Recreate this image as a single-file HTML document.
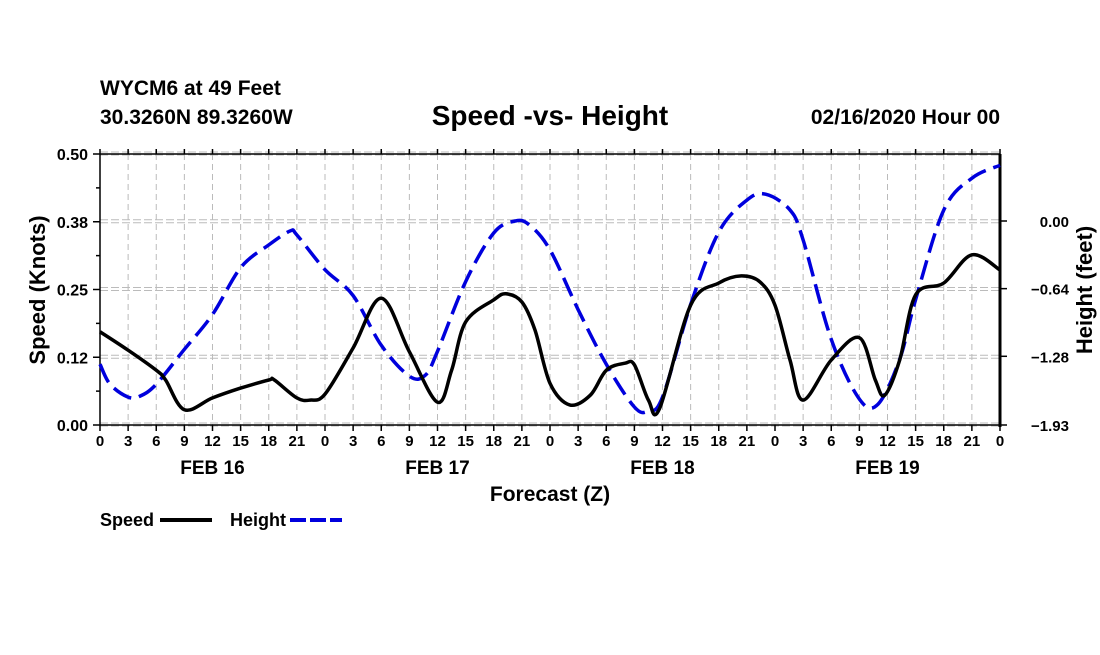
<!DOCTYPE html>
<html><head><meta charset="utf-8"><style>
body{margin:0;background:#fff;}
svg text{font-family:"Liberation Sans",Arial,sans-serif;font-weight:bold;fill:#000;}
</style></head><body>
<svg id="chart" width="1100" height="650" xmlns="http://www.w3.org/2000/svg">
<text x="100" y="95" font-size="21">WYCM6 at 49 Feet</text>
<text x="100" y="124" font-size="21">30.3260N 89.3260W</text>
<text x="550" y="125" font-size="28" text-anchor="middle">Speed -vs- Height</text>
<text x="1000" y="124" font-size="21" text-anchor="end">02/16/2020 Hour 00</text>
<g id="grid"></g>
<g id="axes"></g>
<g id="series"></g>
<text transform="translate(45,290) rotate(-90)" font-size="22" text-anchor="middle">Speed (Knots)</text>
<text transform="translate(1092,290) rotate(-90)" font-size="22" text-anchor="middle">Height (feet)</text>
<text x="550" y="501" font-size="21" text-anchor="middle">Forecast (Z)</text>
<g>
<text x="100" y="526" font-size="18">Speed</text>
<line x1="160" y1="520" x2="212" y2="520" stroke="#000" stroke-width="4"/>
<text x="230" y="526" font-size="18">Height</text>
<line x1="290" y1="520" x2="342" y2="520" stroke="#0000dd" stroke-width="4" stroke-dasharray="16,4"/>
</g>
</svg>
<script>
const xTickLabels=["0","3","6","9","12","15","18","21","0","3","6","9","12","15","18","21","0","3","6","9","12","15","18","21","0","3","6","9","12","15","18","21","0"];
const dayLabels=["FEB 16","FEB 17","FEB 18","FEB 19"];
const speedTicks=[0,0.125,0.25,0.375,0.5];
const speedTickLabels=["0.00","0.12","0.25","0.38","0.50"];
const heightTicks=[-1.93,-1.28,-0.64,0.00];
const heightTickLabels=["\u22121.93","\u22121.28","\u22120.64","0.00"];
const speedHours=[0,3,6,7,9,12,15,18,18.6,21,22.4,24,27,30,33,36,37.5,39,42,43.3,45,46.4,48,50.1,52.3,54,56,57,58.5,59.7,63,66,68.4,70.4,72,73.6,75,78,81,82.7,83.7,85.3,87,90,93,96];
const speedValues=[0.172,0.138,0.101,0.083,0.028,0.050,0.068,0.083,0.083,0.050,0.046,0.057,0.142,0.234,0.135,0.042,0.101,0.190,0.231,0.242,0.227,0.175,0.077,0.037,0.055,0.101,0.114,0.111,0.046,0.031,0.221,0.262,0.275,0.264,0.221,0.120,0.046,0.120,0.161,0.083,0.055,0.120,0.240,0.262,0.314,0.286];
const heightHours=[0,1.07,3,4.3,6,9,12,15,18,20.3,21,24,27,30,33,34.7,36,39,42,44.3,45.8,48,51,54,57,58.5,60,63,66,69,71,73.6,75,78,81,83,85.3,87,90,93,96];
const heightValues=[-1.355,-1.544,-1.666,-1.656,-1.544,-1.214,-0.885,-0.442,-0.226,-0.094,-0.132,-0.461,-0.706,-1.176,-1.468,-1.459,-1.233,-0.574,-0.113,0.0,-0.038,-0.273,-0.838,-1.355,-1.760,-1.798,-1.666,-0.791,-0.104,0.198,0.254,0.104,-0.179,-1.12,-1.685,-1.732,-1.308,-0.744,0.104,0.405,0.527];

const NS="http://www.w3.org/2000/svg";
const L=100,R=1000,T=154,B=425;
const xs=h=>L+(R-L)*h/96;
const ySpeed=v=>B-(B-T)*v/0.5;
const hPx=(B-221)/1.93;
const yHeight=v=>221-v*hPx;
function mk(tag,attrs,parent){const e=document.createElementNS(NS,tag);for(const k in attrs)e.setAttribute(k,attrs[k]);parent.appendChild(e);return e;}
const grid=document.getElementById('grid'),axes=document.getElementById('axes'),series=document.getElementById('series');
xTickLabels.forEach((lab,i)=>{
  const x=xs(i*3);
  if(i>0&&i<xTickLabels.length-1){const g=mk('line',{x1:x,y1:T,x2:x,y2:B,stroke:'#bbb','stroke-width':1,'stroke-dasharray':'6,4'},grid);
  
  }
  mk('line',{x1:x,y1:B,x2:x,y2:B+6,stroke:'#000','stroke-width':1.5},axes);
  mk('line',{x1:x,y1:T,x2:x,y2:T-5,stroke:'#000','stroke-width':1.5},axes);
  const t=mk('text',{x:x,y:B+21,'font-size':15,'text-anchor':'middle'},axes);t.textContent=lab;
  
  
});
dayLabels.forEach((d,i)=>{const t=mk('text',{x:xs(12+24*i),y:474,'font-size':19,'text-anchor':'middle'},axes);t.textContent=d;
  
  });
speedTicks.forEach((v,i)=>{
  const y=ySpeed(v);
  [y-2,y+1].forEach(yy=>{const g=mk('line',{x1:L,y1:yy,x2:R,y2:yy,stroke:'#bbb','stroke-width':1,'stroke-dasharray':'8,3'},grid);
  
  });
  mk('line',{x1:L-7,y1:y,x2:L,y2:y,stroke:'#000','stroke-width':1.5},axes);
  const t=mk('text',{x:L-12,y:y+6,'font-size':16,'text-anchor':'end'},axes);t.textContent=speedTickLabels[i];
  
  
  if(i<speedTicks.length-1){const ym=ySpeed(v+0.0625);mk('line',{x1:L-4,y1:ym,x2:L,y2:ym,stroke:'#000','stroke-width':1.5},axes);}
});
heightTicks.forEach((v,i)=>{
  const y=yHeight(v);
  mk('line',{x1:R,y1:y,x2:R+7,y2:y,stroke:'#000','stroke-width':1.5},axes);
  const t=mk('text',{x:R+69,y:y+6,'font-size':15,'text-anchor':'end'},axes);t.textContent=heightTickLabels[i];
  
  
});
mk('line',{x1:L,y1:T,x2:R,y2:T,stroke:'#000','stroke-width':1.5},axes);
mk('line',{x1:L,y1:B,x2:R,y2:B,stroke:'#000','stroke-width':1.5},axes);
mk('line',{x1:L,y1:T,x2:L,y2:B,stroke:'#000','stroke-width':1.5},axes);
mk('line',{x1:R,y1:T,x2:R,y2:B+2,stroke:'#000','stroke-width':3},axes);
function smooth(pts){
  let d='M'+pts[0][0]+','+pts[0][1];
  for(let i=0;i<pts.length-1;i++){
    const p0=pts[Math.max(0,i-1)],p1=pts[i],p2=pts[i+1],p3=pts[Math.min(pts.length-1,i+2)];
    const c1=[p1[0]+(p2[0]-p0[0])/6,p1[1]+(p2[1]-p0[1])/6];
    const c2=[p2[0]-(p3[0]-p1[0])/6,p2[1]-(p3[1]-p1[1])/6];
    d+=' C'+c1[0].toFixed(1)+','+c1[1].toFixed(1)+' '+c2[0].toFixed(1)+','+c2[1].toFixed(1)+' '+p2[0].toFixed(1)+','+p2[1].toFixed(1);
  }
  return d;
}
const hp=mk('path',{d:smooth(heightHours.map((h,i)=>[xs(h),yHeight(heightValues[i])])),fill:'none',stroke:'#0000dd','stroke-width':3.5,'stroke-dasharray':'20,8'},series);


const sp=mk('path',{d:smooth(speedHours.map((h,i)=>[xs(h),ySpeed(speedValues[i])])),fill:'none',stroke:'#000','stroke-width':3.5,'stroke-linejoin':'round'},series);


</script>
</body></html>
